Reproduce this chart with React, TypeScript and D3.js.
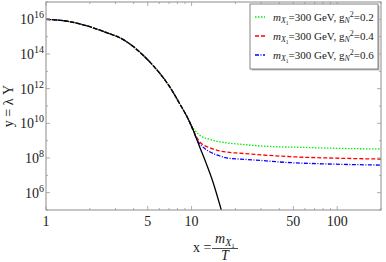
import React from "react";
import * as d3 from "d3";

// equilibrium curve (black)
const eqX = [1, 1.33, 1.82, 2.5, 3.42, 4.0, 4.4, 5.16, 6.04, 7.06, 8.27, 9.69, 10.2, 11.35, 12.6, 14.0, 16.0];
const eqY = [1.0e16, 8.3e15, 4.7e15, 1.95e15, 6.5e14, 2.6e14, 1.3e14, 3.5e13, 7.8e12, 1.3e12, 1.4e11, 1.2e10, 4.5e9, 4.5e8, 4.9e7, 4.3e6, 1.0e5];

// freeze-out tails, they follow the equilibrium curve up to the first x
const greenX = [9.9, 10.5, 11.35, 13.3, 15.5, 18.2, 21.3, 30.6, 40, 52.5, 88, 200];
const greenY = [8.0e9, 4.0e9, 2.1e9, 1.2e9, 8.7e8, 7.1e8, 6.3e8, 4.9e8, 4.4e8, 4.2e8, 3.7e8, 3.3e8];
const redX = [10.2, 10.5, 11.35, 13.3, 15.5, 18.2, 21.3, 30.6, 40, 52.5, 88, 200];
const redY = [4.5e9, 2.6e9, 8.7e8, 3.9e8, 2.6e8, 2.1e8, 1.9e8, 1.5e8, 1.3e8, 1.15e8, 1.0e8, 8.7e7];
const blueX = [10.2, 10.9, 11.9, 13.3, 15.5, 18.2, 21.3, 30.6, 40, 52.5, 88, 200];
const blueY = [4.5e9, 1.1e9, 4.5e8, 2.3e8, 1.35e8, 9.5e7, 8.7e7, 7.1e7, 5.9e7, 5.2e7, 4.5e7, 3.9e7];

const legendG = ["0.2", "0.4", "0.6"];
const xMajor = [1, 5, 10, 50, 100];
const xMinor = [2, 3, 4, 6, 7, 8, 9, 20, 30, 40, 60, 70, 80, 90, 200];
const yMajor = [6, 8, 10, 12, 14, 16];
const yMinor = [5, 7, 9, 11, 13, 15, 17];

const left = 46, right = 381, top = 2, bottom = 210;
const FONT = "Liberation Serif, DejaVu Serif, serif";

export default function App() {
  const x = d3.scaleLog().domain([1, 200]).range([left, right]);
  const y = d3.scaleLog().domain([1e5, 1e17]).range([bottom, top]);

  const line = d3
    .line<[number, number]>()
    .x((d) => x(d[0]))
    .y((d) => y(d[1]))
    .curve(d3.curveMonotoneX);

  const eqPts: [number, number][] = eqX.map((v, i) => [v, eqY[i]]);
  const tail = (xs: number[], ys: number[]): [number, number][] => {
    const head = eqPts.filter((p) => p[0] < xs[0]);
    return head.concat(xs.map((v, i) => [v, ys[i]] as [number, number]));
  };

  const series = [
    { pts: tail(blueX, blueY), color: "#0000ff", dash: "4,1.5,1,1.5" },
    { pts: tail(redX, redY), color: "#ff0000", dash: "4,2" },
    { pts: tail(greenX, greenY), color: "#00f000", dash: "1.5,1.5" },
  ];
  const legend = [series[2], series[1], series[0]];

  // black drawn over the coloured curves: broken where they overlap, solid after
  const eqShared = eqPts.filter((p) => p[0] <= 10.2);
  const eqAlone = eqPts.filter((p) => p[0] >= 9.69);

  return (
    <svg width={386} height={262} style={{ position: "absolute", left: 0, top: 0 }} fontFamily={FONT}>
      <rect width={386} height={262} fill="white" />
      <defs>
        <clipPath id="plot">
          <rect x={left} y={top} width={right - left} height={bottom - top} />
        </clipPath>
      </defs>

      <g clipPath="url(#plot)" fill="none">
        {series.map((s, i) => (
          <path key={i} d={line(s.pts) || ""} stroke={s.color} strokeWidth={1.3} strokeDasharray={s.dash} />
        ))}
        <path d={line(eqShared) || ""} stroke="#000" strokeWidth={1.3} strokeDasharray="5,1" />
        <path d={line(eqAlone) || ""} stroke="#000" strokeWidth={1.3} />
      </g>

      {/* frame */}
      <rect x={left} y={top} width={right - left} height={bottom - top} fill="none" stroke="#8c8c8c" strokeWidth={1} />
      <g stroke="#999" strokeWidth={0.8}>
        {xMajor.map((t) => (
          <g key={"xM" + t}>
            <line x1={x(t)} x2={x(t)} y1={bottom} y2={bottom - 4} />
            <line x1={x(t)} x2={x(t)} y1={top} y2={top + 4} />
          </g>
        ))}
        {xMinor.map((t) => (
          <g key={"xm" + t}>
            <line x1={x(t)} x2={x(t)} y1={bottom} y2={bottom - 2} />
            <line x1={x(t)} x2={x(t)} y1={top} y2={top + 2} />
          </g>
        ))}
        {yMajor.map((e) => (
          <g key={"yM" + e}>
            <line x1={left} x2={left + 4} y1={y(Math.pow(10, e))} y2={y(Math.pow(10, e))} />
            <line x1={right} x2={right - 4} y1={y(Math.pow(10, e))} y2={y(Math.pow(10, e))} />
          </g>
        ))}
        {yMinor.map((e) => (
          <g key={"ym" + e}>
            <line x1={left} x2={left + 2} y1={y(Math.pow(10, e))} y2={y(Math.pow(10, e))} />
            <line x1={right} x2={right - 2} y1={y(Math.pow(10, e))} y2={y(Math.pow(10, e))} />
          </g>
        ))}
      </g>

      {/* tick labels */}
      <g fill="#222" fontSize={14}>
        {xMajor.map((t) => (
          <text key={"xl" + t} x={x(t)} y={226} textAnchor="middle">{t}</text>
        ))}
        {yMajor.map((e) => (
          <text key={"yl" + e} x={44} y={y(Math.pow(10, e)) + 5} textAnchor="end">
            10<tspan fontSize={10} dy={-6}>{e}</tspan>
          </text>
        ))}
      </g>

      {/* axis titles */}
      <text transform={`translate(13,${(top + bottom) / 2}) rotate(-90)`} textAnchor="middle" fontSize={14} fill="#222">
        y = λ Y
      </text>
      <g fill="#222">
        <text x={193} y={252} fontSize={14}>x =</text>
        <text x={215} y={243} fontSize={14}>
          <tspan fontStyle="italic">m</tspan>
          <tspan fontSize={10} fontStyle="italic" dy={3}>X</tspan>
          <tspan fontSize={7} dy={2}>1</tspan>
        </text>
        <line x1={212} x2={238} y1={248.5} y2={248.5} stroke="#222" strokeWidth={0.8} />
        <text x={225} y={260} fontSize={14} fontStyle="italic" textAnchor="middle">T</text>
      </g>

      {/* legend */}
      <rect x={251.5} y={5.5} width={128} height={65} fill="#bbb" />
      <rect x={250} y={4} width={128} height={65} fill="white" stroke="#666" strokeWidth={0.8} />
      {legend.map((s, i) => {
        const cy = 17 + i * 19;
        return (
          <g key={"lg" + i}>
            <line x1={255} x2={265} y1={cy} y2={cy} stroke={s.color} strokeWidth={1.3} strokeDasharray={s.dash} />
            <text x={273} y={cy + 4} fontSize={11} fill="#222">
              <tspan fontStyle="italic">m</tspan>
              <tspan fontSize={8} fontStyle="italic" dy={2}>X</tspan>
              <tspan fontSize={5.5} dy={1.5}>1</tspan>
              <tspan dy={-3.5}>=300 GeV, g</tspan>
              <tspan fontSize={8} fontStyle="italic" dy={2}>N</tspan>
              <tspan fontSize={8} dy={-6}>2</tspan>
              <tspan dy={4}>={legendG[i]}</tspan>
            </text>
          </g>
        );
      })}
    </svg>
  );
}
